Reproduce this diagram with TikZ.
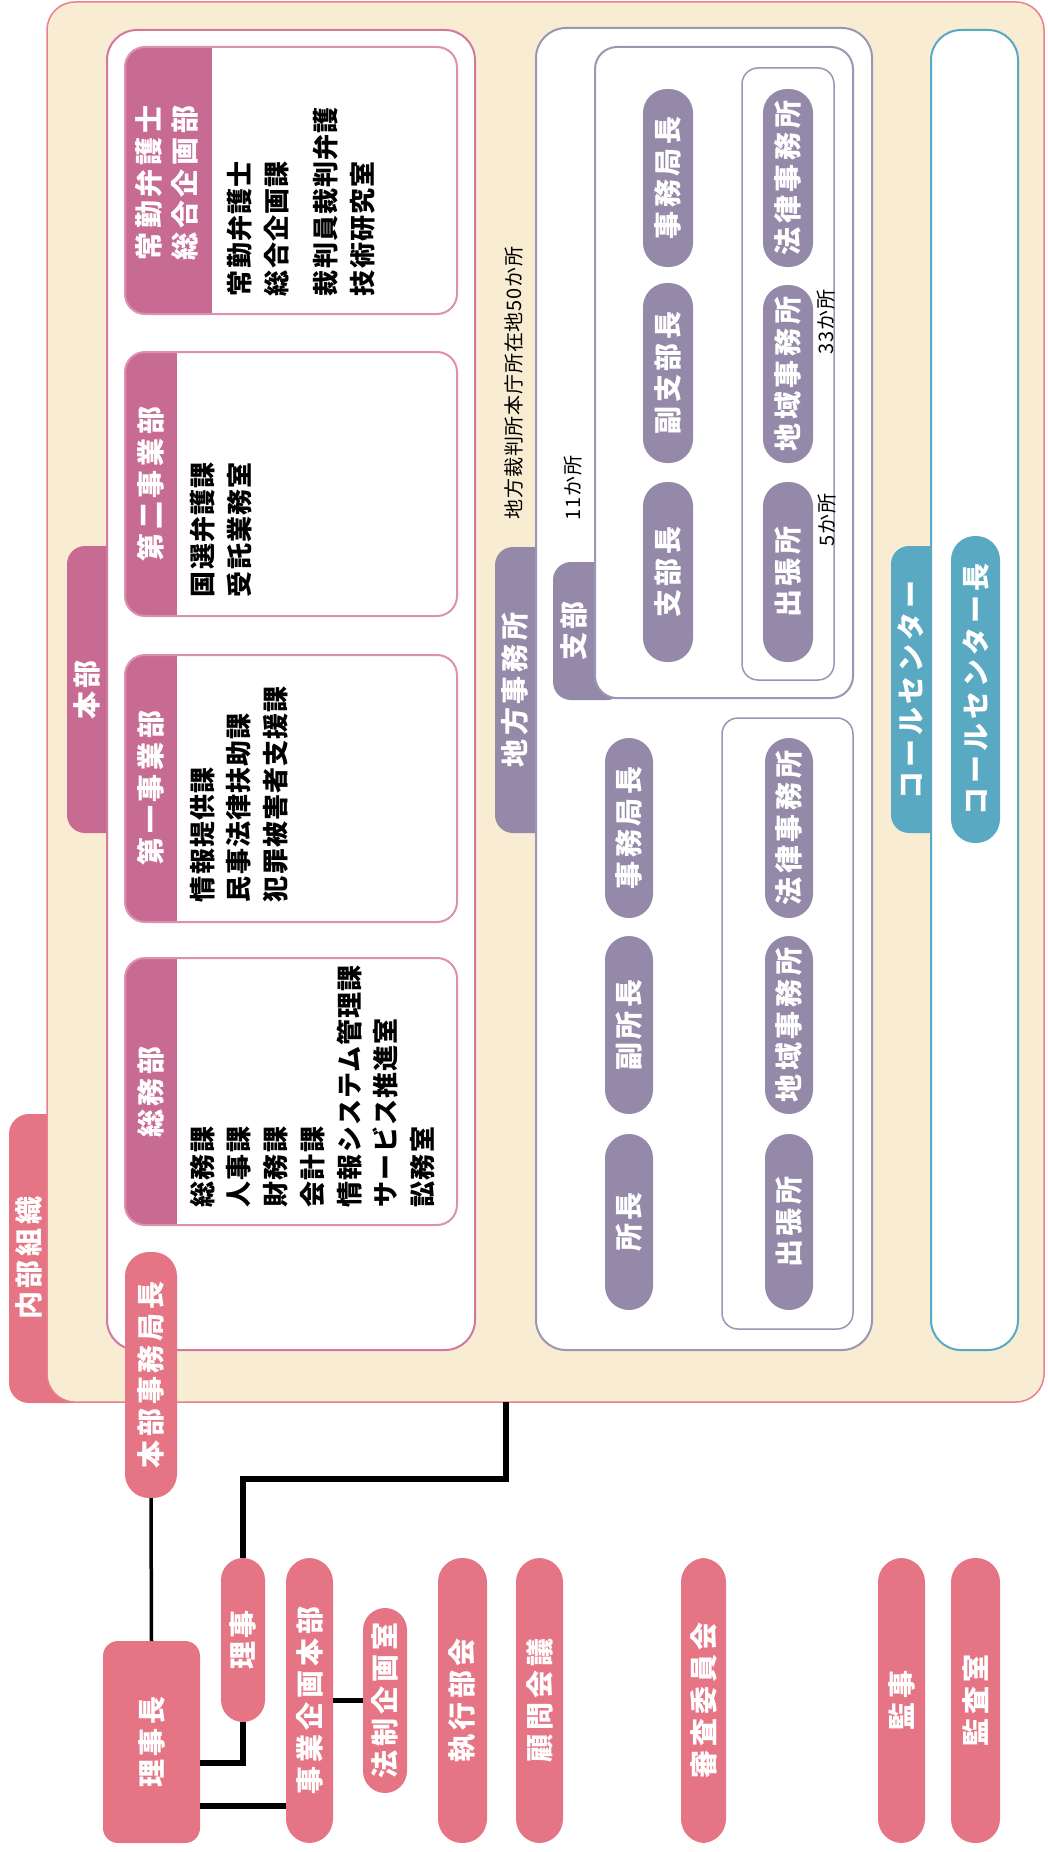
\documentclass[tikz,border=0pt]{standalone}
\usepackage{fontspec}
\usepackage{graphicx}
\newfontfamily\jp{Noto Sans CJK JP}
\usetikzlibrary{fit}
\definecolor{cream}{HTML}{F8ECD3}
\definecolor{framepink}{HTML}{E8808F}
\definecolor{salmon}{HTML}{E57585}
\definecolor{hdrpink}{HTML}{C86B92}
\definecolor{boxpink}{HTML}{D2799F}
\definecolor{deptline}{HTML}{DD90AF}
\definecolor{lav}{HTML}{9489A8}
\definecolor{lavline}{HTML}{9D95B5}
\definecolor{tealc}{HTML}{5AA9C2}
\newcommand\pillfont{\jp\bfseries\fontsize{28}{34}\selectfont\addfontfeatures{LetterSpace=14}}
\newcommand\itemfont{\jp\bfseries\fontsize{26}{36.7}\selectfont\addfontfeatures{LetterSpace=4}}
\newcommand\notefont{\jp\fontsize{20}{24}\selectfont\addfontfeatures{LetterSpace=4}}
\newcommand\deptbox[4]{%
  \node[fit={(125,#2) (457,#3)}, fill=white, rounded corners=20] (#1) {};
  \begin{scope}
    \clip[rounded corners=20] (125,#2) rectangle (457,#3);
    \fill[hdrpink] (125,#2) rectangle (#4,#3);
  \end{scope}
  \draw[deptline, line width=2, rounded corners=20] (125,#2) rectangle (457,#3);
}
% [options]{name}{x1}{y1}{x2}{y2}{colour}{text}
\newcommand\pillnode[8][]{%
  \pgfmathsetmacro\pcx{(#3+#5)/2}%
  \pgfmathsetmacro\pcy{(#4+#6)/2}%
  \pgfmathsetmacro\pw{#5-#3}%
  \pgfmathsetmacro\ph{#6-#4}%
  \node[pill=#7, minimum width=\pw pt, minimum height=\ph pt, #1] (#2) at (\pcx,\pcy) {\rotatebox{90}{#8}};
}
\tikzset{
  pill/.style={fill=#1, inner sep=0pt, outer sep=0pt, rounded corners=24, text=white, font=\pillfont},
  wbox/.style={fill=white, draw=#1, line width=2, inner sep=0pt, outer sep=0pt},
  tablabel/.style={text=white, font=\pillfont, rotate=90},
  hdrtext/.style={text=white, font=\pillfont, rotate=90, align=center},
  items/.style={font=\itemfont, rotate=90, anchor=north west, align=left},
  note/.style={font=\notefont, rotate=90},
  conn/.style={draw=black, line width=5.5},
  thinconn/.style={draw=black, line width=3.5},
}
\begin{document}
\begin{tikzpicture}[x=1pt,y=-1pt, every node/.style={inner sep=0pt,outer sep=0pt}]
\useasboundingbox (0,0) rectangle (1047,1852);
% outer frame with tab
\fill[salmon, rounded corners=20] (9,1114) rectangle (90,1403);
\node[fit={(47,2) (1044,1402)}, fill=cream, draw=framepink, line width=1.5, rounded corners=28] (frame) {};
\node[tablabel] (naibuL) at (29,1258) {内部組織};
% tabs of the three big boxes
\fill[hdrpink, rounded corners=18] (67,546) rectangle (150,833);
\fill[lav, rounded corners=18] (495,547) rectangle (575,833);
\fill[tealc, rounded corners=18] (891,546) rectangle (965,833);
% big boxes
\node[wbox=boxpink, fit={(107,30) (475,1350)}, rounded corners=30] (honbu) {};
\node[wbox=lavline, fit={(536,28) (872,1350)}, rounded corners=30] (chiho) {};
\node[wbox=tealc, fit={(931,30) (1018,1350)}, rounded corners=30] (call) {};
\node[tablabel] (honbuL) at (87,690) {本部};
\node[tablabel] (chihoL) at (515,690) {地方事務所};
\node[tablabel] (callL) at (911,690) {コールセンター};
% branch box
\fill[lav, rounded corners=18] (553,562) rectangle (625,700);
\node[wbox=lavline, fit={(595,47) (853,698)}, rounded corners=22] (shibu) {};
\node[tablabel] (shibuL) at (574,631) {支部};
% department boxes
\deptbox{dept1}{47}{314}{212}
\deptbox{dept2}{352}{616}{177}
\deptbox{dept3}{655}{922}{177}
\deptbox{dept4}{958}{1225}{177}
\node[hdrtext, font=\jp\bfseries\fontsize{28}{36}\selectfont\addfontfeatures{LetterSpace=14}] (h1) at (167,183) {常勤弁護士\\総合企画部};
\node[hdrtext] (h2) at (151,484) {第二事業部};
\node[hdrtext] (h3) at (151,788) {第一事業部};
\node[hdrtext] (h4) at (151,1092) {総務部};
\node[items] (i1) at (227,296) {常勤弁護士\\総合企画課\\[13pt]裁判員裁判弁護\\技術研究室};
\node[items] (i2) at (190,597) {国選弁護課\\受託業務室};
\node[items] (i3) at (190,902) {情報提供課\\民事法律扶助課\\犯罪被害者支援課};
\node[items] (i4) at (190,1207) {総務課\\人事課\\財務課\\会計課\\情報システム管理課\\サービス推進室\\訟務室};
\pillnode{kyokucho}{125}{1252}{177}{1498}{salmon}{本部事務局長}
% inner boxes of local offices
\node[wbox=lavline, line width=1.5, fit={(742,68) (834,680)}, rounded corners=16] (shibuIn) {};
\node[wbox=lavline, line width=1.5, fit={(722,718) (853,1329)}, rounded corners=16] (honchoIn) {};
% branch pills
\pillnode{sJim}{643}{89}{693}{267}{lav}{事務局長}
\pillnode{sFuku}{643}{283}{693}{463}{lav}{副支部長}
\pillnode{sCho}{643}{482}{693}{662}{lav}{支部長}
\pillnode{sHoritsu}{763}{89}{813}{267}{lav}{法律事務所}
\pillnode{sChiiki}{763}{285}{813}{463}{lav}{地域事務所}
\pillnode{sShutcho}{763}{482}{813}{662}{lav}{出張所}
% main office pills
\pillnode{mJim}{605}{738}{653}{918}{lav}{事務局長}
\pillnode{mFuku}{605}{936}{653}{1114}{lav}{副所長}
\pillnode{mCho}{605}{1134}{653}{1310}{lav}{所長}
\pillnode{mHoritsu}{765}{738}{813}{918}{lav}{法律事務所}
\pillnode{mChiiki}{765}{936}{813}{1114}{lav}{地域事務所}
\pillnode{mShutcho}{765}{1134}{813}{1310}{lav}{出張所}
% call center head
\pillnode{callCho}{951}{536}{1000}{843}{tealc}{コールセンター長}
% notes
\node[note] (n50) at (514,383) {地方裁判所本庁所在地50か所};
\node[note] (n11) at (573,488) {11か所};
\node[note] (n33) at (826,322) {33か所};
\node[note] (n5) at (827,520) {5か所};
% board
\pillnode[rounded corners=15]{rijicho}{103}{1641}{200}{1843}{salmon}{理事長}
\pillnode[rounded corners=22]{riji}{221}{1558}{265}{1722}{salmon}{理事}
\pillnode{jigyo}{286}{1558}{333}{1843}{salmon}{事業企画本部}
\pillnode[rounded corners=22]{hosei}{363}{1608}{407}{1793}{salmon}{法制企画室}
\pillnode{shikko}{438}{1558}{487}{1843}{salmon}{執行部会}
\pillnode{komon}{516}{1558}{563}{1843}{salmon}{顧問会議}
\pillnode{shinsa}{681}{1558}{726}{1843}{salmon}{審査委員会}
\pillnode{kanji}{878}{1558}{925}{1843}{salmon}{監事}
\pillnode{kansa}{951}{1558}{1000}{1843}{salmon}{監査室}
% connectors
\coordinate (fb) at (506,1402);
\draw[thinconn] (kyokucho.south) -- (rijicho.north);
\draw[conn] (fb) -- ++(0,77) -| (riji.north);
\draw[conn] (riji.south) |- ([yshift=-21pt]rijicho.east);
\draw[conn] ([yshift=-64pt]rijicho.east) -- ([yshift=-64pt]rijicho.east -| jigyo.west);
\draw[conn] (jigyo.east) -- (hosei.west);
\end{tikzpicture}
\end{document}
